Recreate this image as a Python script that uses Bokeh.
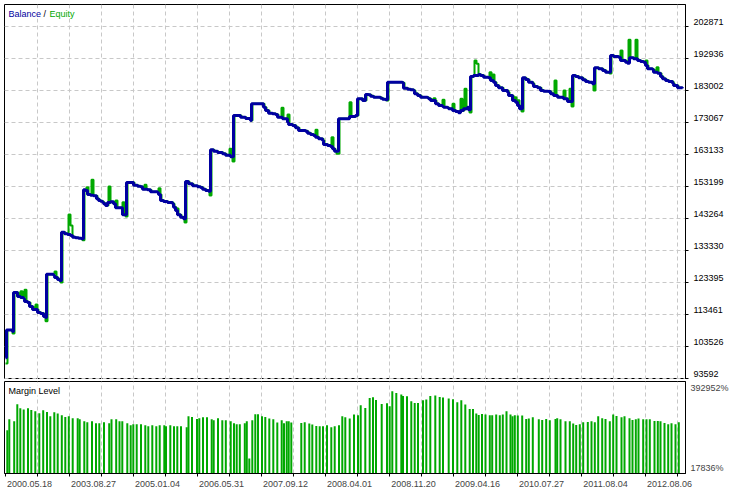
from bokeh.plotting import figure
from bokeh.layouts import column
from bokeh.models import Range1d, FixedTicker, Label, Grid
from bokeh.embed import file_html
from bokeh.resources import INLINE

# ---------------- data ----------------
# deal sequence position and balance after the deal
bal_x = [5, 6, 12, 13, 17, 20, 23, 24, 27, 29, 32, 37, 40, 43, 45, 46, 53, 54, 57, 59,
         61, 64, 67, 70, 72, 75, 78, 81, 83, 85, 87, 90, 93, 96, 98, 100, 102, 103, 105, 107,
         110, 113, 115, 122, 126, 133, 137, 140, 142, 147, 150, 157, 158, 160, 163, 167, 172, 173, 175, 177,
         180, 183, 185, 188, 192, 197, 200, 202, 205, 208, 210, 213, 217, 222, 225, 230, 233, 240, 245, 250,
         251, 263, 265, 268, 272, 275, 277, 282, 287, 288, 292, 295, 298, 305, 307, 310, 313, 315, 318, 322,
         323, 327, 330, 332, 334, 338, 349, 355, 357, 362, 365, 368, 370, 373, 380, 382, 385, 387, 402, 403,
         407, 410, 413, 414, 417, 420, 427, 428, 430, 435, 438, 442, 443, 447, 448, 452, 455, 458, 460, 463,
         467, 468, 470, 473, 478, 480, 483, 488, 490, 493, 495, 498, 502, 507, 508, 512, 515, 517, 519, 522,
         525, 528, 532, 533, 537, 540, 543, 548, 550, 553, 557, 563, 567, 572, 575, 578, 582, 585, 588, 592,
         594, 598, 602, 605, 610, 613, 618, 620, 625, 627, 629, 633, 637, 640, 643, 645, 647, 652, 653, 657,
         660, 662, 665, 668, 672, 673, 677, 682]
bal_v = [100000, 108649, 108183, 120291, 119049, 118738, 118428, 117497, 117186, 115944, 115013, 114082, 113771, 112840, 112529, 125972, 125660, 124947, 124326, 124016,
         139011, 138514, 138297, 137986, 137458, 137272, 137148, 136962, 152174, 151956, 150715, 150498, 150312, 149380, 148852, 148635, 148324, 147828, 147300, 148231,
         148449, 147828, 146586, 144413, 154440, 153602, 153292, 153106, 152360, 152174, 151553, 151336, 150715, 148852, 148542, 148231, 147828, 146771, 145747, 144413,
         143667, 143170, 154751, 154037, 153416, 153105, 152888, 152360, 151956, 151739, 164592, 164157, 163754, 163349, 162915, 162419, 175240, 174712, 174309, 173688,
         178873, 177817, 176792, 175954, 175768, 175551, 174712, 174216, 173160, 172446, 172136, 171422, 170583, 170366, 169745, 169342, 169032, 168503, 168007, 167479,
         166237, 165927, 165616, 164902, 164157, 174216, 174930, 175240, 180425, 179897, 181760, 181667, 181232, 180922, 180611, 180301, 180115, 185578, 185392, 183716,
         183406, 183219, 183002, 181977, 181449, 180922, 180735, 180425, 179897, 178873, 178345, 178034, 177817, 177631, 177321, 176792, 176482, 176078, 176792, 177321,
         177817, 176985, 187348, 187658, 187969, 187658, 187130, 186944, 186106, 185578, 184554, 183839, 183002, 182474, 181449, 179897, 179369, 178345, 177321, 186944,
         186416, 185578, 185081, 184243, 183839, 183002, 182785, 182691, 181977, 181449, 180922, 180425, 179587, 187658, 187348, 186944, 186323, 185795, 185578, 185081,
         190049, 189738, 189210, 188683, 193867, 193557, 193340, 192315, 191787, 191477, 193153, 192843, 192315, 192005, 191787, 190763, 189738, 189521, 188683, 188372,
         187348, 186634, 186106, 185795, 185267, 184554, 183839, 183716]

# equity excursions away from balance: first deal, last deal, equity value
eq_from = [20, 24, 35, 54, 68, 70, 86, 91, 108, 115, 122, 144, 158, 176, 229, 281, 287, 315, 331, 349,
           433, 442, 452, 460, 464, 474, 476, 489, 492, 514, 517, 554, 563, 569, 620, 628, 635, 645, 656,
           5, 12, 45, 60, 82, 125, 184, 209, 232, 336, 386, 469, 521, 571, 593, 609]
eq_to = [21, 25, 36, 55, 69, 71, 87, 92, 109, 116, 123, 145, 159, 177, 230, 282, 288, 316, 332, 350,
         434, 443, 453, 461, 465, 475, 477, 490, 493, 515, 518, 555, 564, 570, 621, 629, 636, 646, 657,
         6, 13, 46, 61, 83, 126, 185, 210, 233, 338, 387, 470, 522, 572, 594, 610]
eq_val = [120694, 121129, 116565, 126810, 144506, 141091, 152981, 155278, 153198, 148852, 148324, 153727, 152671, 146368, 164902, 177631, 175551, 170801, 168503, 179369,
          180611, 180115, 178873, 180425, 183529, 192315, 191290, 188683, 188000, 180922, 180000, 186106, 183002, 183529, 195419, 198741, 198741, 192315, 190235,
          98249, 107562, 111381, 123395, 136527, 143884, 142022, 150404, 160960, 163349, 179897, 176171, 176482, 178034, 183002, 188279]

# margin level (%) per deal
margin_x = [6.8, 8.8, 13.7, 16.8, 19.8, 23.2, 27.5, 30.8, 34.8, 38.8,
            42.7, 46.5, 49.8, 53.8, 57.2, 61.3, 64.8, 68.3, 72.2, 77.2,
            79.2, 83.8, 86.8, 91.5, 95.5, 98.8, 103.5, 108.7, 111.0, 115.7,
            119.0, 121.8, 126.8, 130.2, 132.8, 136.2, 140.5, 144.8, 147.8, 151.8,
            155.8, 159.2, 163.8, 165.5, 169.8, 173.5, 176.8, 180.5, 186.2, 188.0,
            191.5, 196.5, 198.8, 202.5, 206.5, 211.2, 213.2, 217.5, 221.8, 225.3,
            230.2, 233.5, 236.2, 239.3, 244.3, 246.3, 248.8, 251.8, 254.8, 257.5,
            261.5, 264.8, 268.8, 272.8, 276.8, 281.2, 283.5, 286.2, 288.2, 290.8,
            300.8, 304.2, 308.8, 311.8, 315.8, 319.2, 322.5, 326.5, 330.8, 334.2,
            338.5, 341.8, 344.8, 349.2, 353.5, 357.5, 360.2, 364.8, 369.2, 372.5,
            375.5, 381.2, 386.5, 389.2, 391.8, 395.8, 400.8, 402.5, 406.5, 410.8,
            414.2, 417.5, 422.5, 425.8, 429.8, 434.8, 439.2, 442.5, 448.2, 452.5,
            456.8, 460.8, 464.8, 469.2, 472.5, 475.8, 478.2, 481.5, 485.0, 489.3,
            491.7, 495.7, 499.3, 502.3, 506.0, 510.0, 512.0, 514.3, 517.3, 521.7,
            525.7, 528.3, 532.3, 538.3, 541.7, 545.7, 549.3, 555.0, 556.7, 560.0,
            565.0, 569.3, 572.7, 575.7, 579.3, 582.7, 587.3, 591.0, 594.3, 597.7,
            601.7, 605.0, 609.3, 612.7, 616.0, 621.0, 624.0, 629.0, 632.0, 635.3,
            638.0, 642.7, 646.0, 649.3, 654.0, 657.3, 660.0, 664.0, 667.7, 671.0,
            675.0, 678.3]
margin_v = [193845, 239187, 230943, 301017, 284529, 279171, 284529, 277522, 272163, 263919,
            276285, 269278, 251553, 268041, 262683, 255675, 248668, 251553, 243309, 243309,
            239187, 230943, 226821, 230943, 222699, 222699, 226821, 222699, 239187, 239187,
            230943, 230943, 222699, 214455, 218577, 218577, 218577, 214455, 210333, 214455,
            210333, 214455, 214455, 210333, 214455, 210333, 210333, 210333, 206211, 251553,
            248668, 240424, 243309, 247431, 247431, 239187, 235065, 243309, 235065, 235065,
            230943, 222699, 218577, 218577, 222699, 230943, 77193, 235065, 259797, 259797,
            251553, 248668, 242073, 239187, 225585, 235065, 222699, 230943, 230943, 225585,
            223936, 226821, 221463, 217341, 211570, 210333, 210333, 214455, 206211, 210333,
            214455, 251553, 247431, 242073, 258561, 255675, 296895, 285766, 326986, 329871,
            318742, 302254, 305139, 292773, 354603, 347596, 341001, 335230, 333993, 313383,
            306376, 306376, 317505, 320391, 335230, 336879, 331108, 328635, 324513, 321627,
            309261, 317505, 299781, 281644, 281644, 262683, 256912, 261034, 258561, 255675,
            255675, 258561, 255675, 258561, 272163, 258561, 251553, 255675, 254439, 254439,
            240424, 242073, 247431, 239187, 236302, 240424, 235065, 240424, 243309, 239187,
            230943, 230943, 221463, 215692, 218577, 226821, 228058, 230943, 226821, 251553,
            243309, 240424, 230943, 258561, 252790, 247431, 251553, 243309, 236302, 239187,
            242073, 239187, 239187, 239187, 232180, 232180, 230943, 223936, 218577, 222699,
            218577, 226821]

price_ticks = [93592, 103526, 113461, 123395, 133330, 143264, 153199, 163133, 173067, 183002, 192936, 202871]
margin_ticks = [17836, 392952]
date_labels = ["2000.05.18", "2003.08.27", "2005.01.04", "2006.05.31", "2007.09.12", "2008.04.01",
               "2008.11.20", "2009.04.16", "2010.07.27", "2011.08.04", "2012.08.06"]

# ---------------- style ----------------
BLUE = "#0000A0"
GREEN = "#00A800"
GRID = "#C8C8C8"
FONT = "Liberation Sans"
FS = "9px"

X0, X1 = 4, 685
FW = 681
FH1, FH2 = 375, 92
grid_x = list(range(37, 680, 32))
label_x = [29 + 64 * k for k in range(len(date_labels))]


def balance_at(xq):
    k = 0
    while k + 1 < len(bal_x) and bal_x[k + 1] <= xq:
        k += 1
    return bal_v[k]


# equity series: follows balance one deal later, with floating excursions
eq_x = list(range(bal_x[0], bal_x[-1] + 1))
eq_v = []
for xi in eq_x:
    v = balance_at(xi - 1)
    for a, b, s in zip(eq_from, eq_to, eq_val):
        if a <= xi <= b:
            v = s
    eq_v.append(v)

# ---------------- top panel ----------------
upx = (price_ticks[1] - price_ticks[0]) / 32.0
ylo = price_ticks[0] - upx
yhi = ylo + FH1 * upx

p1 = figure(frame_width=FW, frame_height=FH1, x_range=Range1d(X0, X1), y_range=Range1d(ylo, yhi),
            output_backend="svg", toolbar_location=None, x_axis_location=None, y_axis_location="right",
            min_border_left=0, min_border_top=0, min_border_bottom=0, min_border_right=0,
            background_fill_color="white", border_fill_color="white")
p1.grid.visible = False
p1.outline_line_color = "black"
p1.outline_line_width = 1
p1.add_layout(Grid(dimension=0, ticker=FixedTicker(ticks=grid_x), grid_line_color=GRID, grid_line_dash="4 3"))
p1.add_layout(Grid(dimension=1, ticker=FixedTicker(ticks=price_ticks), grid_line_color=GRID, grid_line_dash="4 3"))

p1.step(eq_x, eq_v, mode="after", line_color=GREEN, line_width=2)
p1.step(bal_x, bal_v, mode="after", line_color=BLUE, line_width=3)

lab_pos = [int(round(v + 4 * upx)) for v in price_ticks]
ax = p1.yaxis[0]
ax.ticker = FixedTicker(ticks=lab_pos, minor_ticks=price_ticks)
ax.major_label_overrides = {pp: str(v) for pp, v in zip(lab_pos, price_ticks)}
ax.major_tick_out = 0
ax.major_tick_in = 0
ax.minor_tick_out = 3
ax.minor_tick_in = 0
ax.minor_tick_line_color = "black"
ax.axis_line_color = "black"
ax.major_label_standoff = 5
ax.major_label_text_font = FONT
ax.major_label_text_font_size = FS
ax.major_label_text_color = "black"

for txt, xx, col in [("Balance", 8, BLUE), ("/", 43, "black"), ("Equity", 49, GREEN)]:
    p1.add_layout(Label(x=xx, y=yhi, y_offset=-4, text=txt, text_baseline="top", text_align="left",
                        text_font=FONT, text_font_size=FS, text_color=col,
                        background_fill_color="white"))

# ---------------- bottom panel ----------------
mpx = (margin_ticks[1] - margin_ticks[0]) / 91.0
mlo = margin_ticks[0] - 0.5 * mpx
mhi = mlo + FH2 * mpx

p2 = figure(frame_width=FW, frame_height=FH2, x_range=p1.x_range, y_range=Range1d(mlo, mhi),
            output_backend="svg", toolbar_location=None, y_axis_location="right",
            min_border_left=0, min_border_top=2, min_border_bottom=0, min_border_right=0,
            background_fill_color="white", border_fill_color="white")
p2.grid.visible = False
p2.outline_line_color = "black"
p2.add_layout(Grid(dimension=0, ticker=FixedTicker(ticks=grid_x), grid_line_color=GRID, grid_line_dash="4 3"))
p2.vbar(x=margin_x, width=2, bottom=margin_ticks[0], top=margin_v, fill_color=GREEN, line_color=None)

m_pos = [int(round(margin_ticks[0] + 5.2 * mpx)), int(round(margin_ticks[1] - 6.3 * mpx))]
ay = p2.yaxis[0]
ay.ticker = FixedTicker(ticks=m_pos, minor_ticks=[])
ay.major_label_overrides = {m_pos[0]: "%d%%" % margin_ticks[0], m_pos[1]: "%d%%" % margin_ticks[1]}
ay.major_tick_out = 0
ay.major_tick_in = 0
ay.axis_line_color = "black"
ay.major_label_standoff = 5
ay.major_label_text_font = FONT
ay.major_label_text_font_size = FS

axx = p2.xaxis[0]
axx.ticker = FixedTicker(ticks=label_x, minor_ticks=[5] + grid_x)
axx.major_label_overrides = {pp: t for pp, t in zip(label_x, date_labels)}
axx.major_tick_out = 0
axx.major_tick_in = 0
axx.minor_tick_out = 3
axx.minor_tick_in = 0
axx.minor_tick_line_color = "black"
axx.axis_line_color = "black"
axx.major_label_standoff = 4
axx.major_label_text_font = FONT
axx.major_label_text_font_size = FS

p2.add_layout(Label(x=8, y=mhi, y_offset=-4, text="Margin Level", text_baseline="top", text_align="left",
                    text_font=FONT, text_font_size=FS, text_color="black",
                    background_fill_color="white"))

layout = column(p1, p2, spacing=0, styles={"margin-left": "4px", "margin-top": "4px"})

open("out.html", "w").write(file_html(layout, INLINE))
